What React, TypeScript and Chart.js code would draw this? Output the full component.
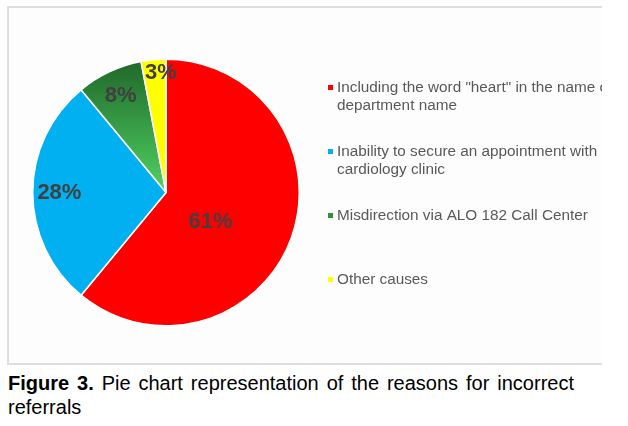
import React, { useEffect, useRef } from "react";
import { Chart, registerables } from "chart.js";

Chart.register(...registerables);

// ---- data ----
const categories: string[][] = [
  ['Including the word "heart" in the name of', "department name"],
  ["Inability to secure an appointment with a", "cardiology clinic"],
  ["Misdirection via ALO 182 Call Center"],
  ["Other causes"],
];
const shares: number[] = [61, 28, 8, 3];
const shareLabels: string[] = ["61%", "28%", "8%", "3%"];
const sliceColors: string[] = ["#ff0000", "#00b0f0", "#2f8f3b", "#ffff00"];

const FONT = '"Liberation Sans", Arial, Helvetica, sans-serif';

const sliceLabelPlugin = {
  id: "sliceLabels",
  afterDatasetsDraw(chart: any, _args: any, opts: any) {
    const meta = chart.getDatasetMeta(0);
    const ctx = chart.ctx;
    ctx.save();
    ctx.font = `bold ${opts.size}px ${FONT}`;
    ctx.fillStyle = opts.color;
    ctx.textAlign = "center";
    ctx.textBaseline = "middle";
    meta.data.forEach((arc: any, i: number) => {
      const p = arc.getProps(["x", "y", "startAngle", "endAngle", "outerRadius"], true);
      const a = (p.startAngle + p.endAngle) / 2 + (opts.angleShift[i] * Math.PI) / 180;
      const r = p.outerRadius * opts.radius[i];
      ctx.fillText(shareLabels[i], p.x + Math.cos(a) * r, p.y + Math.sin(a) * r);
    });
    ctx.restore();
  },
};

const sideLegendPlugin = {
  id: "sideLegend",
  afterDraw(chart: any, _args: any, opts: any) {
    const ctx = chart.ctx;
    ctx.save();
    ctx.font = `${opts.size}px ${FONT}`;
    ctx.textBaseline = "middle";
    ctx.textAlign = "left";
    categories.forEach((lines, i) => {
      const y = opts.top + i * opts.itemGap;
      ctx.fillStyle = opts.markerColors[i];
      ctx.fillRect(opts.left, y - opts.box / 2, opts.box, opts.box);
      ctx.fillStyle = opts.color;
      lines.forEach((line, j) => {
        ctx.fillText(line, opts.textLeft, y + j * opts.lineHeight);
      });
    });
    ctx.restore();
  },
};

function PieChart() {
  const ref = useRef<HTMLCanvasElement | null>(null);
  useEffect(() => {
    if (!ref.current) return;
    const chart = new Chart(ref.current, {
      type: "pie",
      data: {
        labels: categories.map((c) => c.join(" ")),
        datasets: [
          {
            data: shares,
            backgroundColor: (c: any) => {
              const i = c.dataIndex;
              if (i !== 2) return sliceColors[i];
              const area = c.chart.chartArea;
              if (!area) return sliceColors[2];
              const g = c.chart.ctx.createLinearGradient(0, area.top, 0, (area.top + area.bottom) / 2);
              g.addColorStop(0, "#1f662a");
              g.addColorStop(1, "#50d262");
              return g;
            },
            borderColor: "#ffffff",
            borderWidth: 1.5,
          },
        ],
      },
      options: {
        animation: false,
        responsive: true,
        maintainAspectRatio: false,
        layout: { padding: { left: 25, top: 52.5, right: 302, bottom: 38.5 } },
        plugins: {
          legend: { display: false },
          tooltip: { enabled: false },
          sliceLabels: {
            size: 22,
            color: "#404040",
            radius: [0.4, 0.8, 0.8, 0.9],
            angleShift: [13.7, 0, 0, 3],
          },
          sideLegend: {
            size: 15.3,
            color: "#595959",
            left: 321,
            textLeft: 330,
            top: 81.5,
            itemGap: 64,
            lineHeight: 18,
            box: 5,
            markerColors: ["#ff0000", "#00b0f0", "#2f8f3b", "#ffff00"],
          },
        } as any,
      },
      plugins: [sliceLabelPlugin, sideLegendPlugin],
    });
    return () => chart.destroy();
  }, []);
  return <canvas ref={ref} />;
}

export default function App() {
  return (
    <div
      style={{
        position: "fixed",
        left: 0,
        top: 0,
        width: 628,
        height: 426,
        background: "#ffffff",
        overflow: "hidden",
      }}
    >
      <div
        style={{
          position: "absolute",
          left: 7,
          top: 6,
          width: 595,
          height: 359,
          boxSizing: "border-box",
          background: "#fdfdfd",
          borderTop: "2px solid #dedede",
          borderLeft: "2px solid #dedede",
          borderBottom: "2px solid #dedede",
        }}
      />
      <div style={{ position: "absolute", left: 7, top: 6, width: 595, height: 359 }}>
        <PieChart />
      </div>
      <div
        style={{
          position: "absolute",
          left: 8,
          top: 371,
          width: 566,
          fontFamily: FONT,
          fontSize: 20,
          lineHeight: "24px",
          color: "#000000",
        }}
      >
        <div style={{ textAlign: "justify", textAlignLast: "justify" as any }}>
          <b>Figure 3.</b> Pie chart representation of the reasons for incorrect
        </div>
        <div>referrals</div>
      </div>
    </div>
  );
}
